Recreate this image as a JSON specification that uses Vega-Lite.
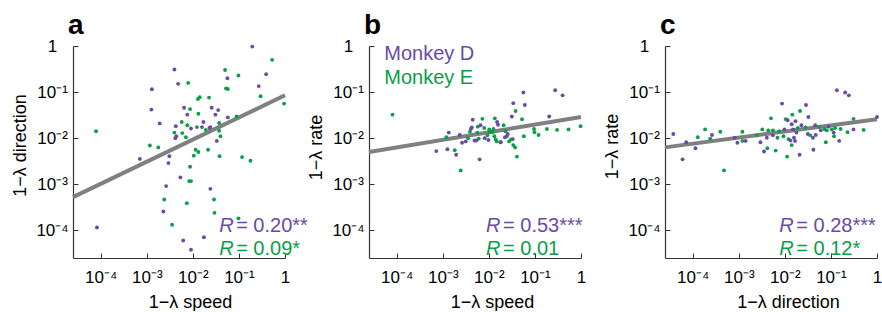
{
  "$schema": "https://vega.github.io/schema/vega-lite/v6.json",
  "padding": {"left": 11, "top": 12, "right": 0, "bottom": 0},
  "spacing": 84,
  "bounds": "flush",
  "datasets": {
    "points": [
      {"p":"a","m":"D","x":0.195,"y":0.97},{"p":"a","m":"E","x":0.525,"y":0.501},{"p":"a","m":"D","x":0.00398,"y":0.309},{"p":"a","m":"E","x":0.0501,"y":0.302},
      {"p":"a","m":"E","x":0.0977,"y":0.229},{"p":"a","m":"D","x":0.0562,"y":0.2},{"p":"a","m":"D","x":0.389,"y":0.245},{"p":"a","m":"E","x":0.00794,"y":0.158},
      {"p":"a","m":"D","x":0.00479,"y":0.151},{"p":"a","m":"D","x":0.269,"y":0.135},{"p":"a","m":"D","x":0.00129,"y":0.115},{"p":"a","m":"E","x":0.0525,"y":0.12},
      {"p":"a","m":"E","x":0.0575,"y":0.117},{"p":"a","m":"E","x":0.295,"y":0.0813},{"p":"a","m":"E","x":0.955,"y":0.0562},{"p":"a","m":"E","x":0.0141,"y":0.0776},
      {"p":"a","m":"E","x":0.0129,"y":0.0708},{"p":"a","m":"E","x":0.0224,"y":0.0759},{"p":"a","m":"D","x":0.00126,"y":0.0417},{"p":"a","m":"E","x":0.00871,"y":0.0427},
      {"p":"a","m":"D","x":0.00646,"y":0.0457},{"p":"a","m":"D","x":0.0257,"y":0.0457},{"p":"a","m":"D","x":0.0355,"y":0.0407},{"p":"a","m":"E","x":0.0132,"y":0.0339},
      {"p":"a","m":"D","x":0.00759,"y":0.0324},{"p":"a","m":"D","x":0.0309,"y":0.0324},{"p":"a","m":"D","x":0.0575,"y":0.0282},{"p":"a","m":"E","x":0.0891,"y":0.0295},
      {"p":"a","m":"D","x":0.00191,"y":0.0209},{"p":"a","m":"E","x":0.00575,"y":0.0224},{"p":"a","m":"E","x":0.00759,"y":0.0191},{"p":"a","m":"D","x":0.017,"y":0.0224},
      {"p":"a","m":"D","x":0.00912,"y":0.0162},{"p":"a","m":"E","x":0.0123,"y":0.0174},{"p":"a","m":"D","x":0.0158,"y":0.0174},{"p":"a","m":"D","x":0.0229,"y":0.0166},
      {"p":"a","m":"D","x":0.024,"y":0.0174},{"p":"a","m":"E","x":0.0191,"y":0.0151},{"p":"a","m":"E","x":0.0372,"y":0.0214},{"p":"a","m":"E","x":0.0372,"y":0.0145},
      {"p":"a","m":"E","x":0.0398,"y":0.011},{"p":"a","m":"D","x":0.0331,"y":0.00871},{"p":"a","m":"E","x":0.00398,"y":0.0132},{"p":"a","m":"D","x":0.00417,"y":0.01},
      {"p":"a","m":"D","x":0.00437,"y":0.011},{"p":"a","m":"E","x":0.00708,"y":0.0105},{"p":"a","m":"E","x":0.00589,"y":0.0129},{"p":"a","m":"E","x":0.00117,"y":0.00692},
      {"p":"a","m":"E","x":0.00178,"y":0.00631},{"p":"a","m":"E","x":0.0115,"y":0.00562},{"p":"a","m":"E","x":0.0132,"y":0.00501},{"p":"a","m":"E","x":0.0214,"y":0.00562},
      {"p":"a","m":"E","x":0.0105,"y":0.00417},{"p":"a","m":"E","x":0.038,"y":0.00407},{"p":"a","m":"E","x":0.117,"y":0.00389},{"p":"a","m":"E","x":0.178,"y":0.00324},
      {"p":"a","m":"D","x":0.00309,"y":0.00407},{"p":"a","m":"D","x":0.00295,"y":0.00288},{"p":"a","m":"D","x":0.000708,"y":0.00355},{"p":"a","m":"E","x":0.00871,"y":0.0024},
      {"p":"a","m":"D","x":0.00537,"y":0.00141},{"p":"a","m":"E","x":0.00832,"y":0.00117},{"p":"a","m":"E","x":0.00912,"y":0.00117},{"p":"a","m":"D","x":0.00263,"y":0.000912},
      {"p":"a","m":"D","x":0.024,"y":0.000794},{"p":"a","m":"E","x":0.0024,"y":0.000468},{"p":"a","m":"E","x":0.0288,"y":0.000468},{"p":"a","m":"E","x":0.00741,"y":0.000389},
      {"p":"a","m":"D","x":0.00229,"y":0.000257},{"p":"a","m":"E","x":0.0295,"y":0.00024},{"p":"a","m":"E","x":0.00355,"y":0.000132},{"p":"a","m":"E","x":0.0977,"y":0.000182},
      {"p":"a","m":"D","x":0.0000832,"y":0.000115},{"p":"a","m":"E","x":0.0000794,"y":0.0141},{"p":"a","m":"D","x":0.00617,"y":0.0000603},{"p":"a","m":"D","x":0.0174,"y":0.0000708},
      {"p":"a","m":"D","x":0.00912,"y":0.000038},{"p":"a","m":"D","x":0.00427,"y":0.0182},

      {"p":"b","m":"E","x":0.0000813,"y":0.0324},{"p":"b","m":"D","x":0.0562,"y":0.0977},{"p":"b","m":"D","x":0.275,"y":0.11},{"p":"b","m":"D","x":0.398,"y":0.0851},
      {"p":"b","m":"D","x":0.0339,"y":0.0575},{"p":"b","m":"D","x":0.0603,"y":0.0525},{"p":"b","m":"E","x":0.038,"y":0.0389},{"p":"b","m":"D","x":0.0316,"y":0.0295},
      {"p":"b","m":"E","x":0.0525,"y":0.0257},{"p":"b","m":"D","x":0.204,"y":0.0295},{"p":"b","m":"E","x":0.977,"y":0.0182},{"p":"b","m":"E","x":0.537,"y":0.0155},
      {"p":"b","m":"E","x":0.302,"y":0.0151},{"p":"b","m":"E","x":0.182,"y":0.0158},{"p":"b","m":"E","x":0.0955,"y":0.0158},{"p":"b","m":"E","x":0.0977,"y":0.0135},
      {"p":"b","m":"E","x":0.12,"y":0.0117},{"p":"b","m":"E","x":0.0575,"y":0.011},{"p":"b","m":"E","x":0.0135,"y":0.0269},{"p":"b","m":"D","x":0.0151,"y":0.0224},
      {"p":"b","m":"D","x":0.0158,"y":0.0195},{"p":"b","m":"E","x":0.00724,"y":0.0263},{"p":"b","m":"D","x":0.00447,"y":0.0251},{"p":"b","m":"D","x":0.00407,"y":0.0158},
      {"p":"b","m":"D","x":0.00427,"y":0.017},{"p":"b","m":"E","x":0.00575,"y":0.0178},{"p":"b","m":"D","x":0.00661,"y":0.0191},{"p":"b","m":"E","x":0.00794,"y":0.0166},
      {"p":"b","m":"E","x":0.0102,"y":0.0155},{"p":"b","m":"E","x":0.0126,"y":0.0158},{"p":"b","m":"E","x":0.0209,"y":0.0191},{"p":"b","m":"E","x":0.0229,"y":0.0141},
      {"p":"b","m":"D","x":0.0257,"y":0.0123},{"p":"b","m":"E","x":0.0105,"y":0.0135},{"p":"b","m":"E","x":0.012,"y":0.0135},{"p":"b","m":"E","x":0.00562,"y":0.0132},
      {"p":"b","m":"E","x":0.00389,"y":0.0138},{"p":"b","m":"E","x":0.00933,"y":0.0115},{"p":"b","m":"E","x":0.0132,"y":0.011},{"p":"b","m":"D","x":0.00813,"y":0.01},
      {"p":"b","m":"E","x":0.0141,"y":0.00933},{"p":"b","m":"D","x":0.00977,"y":0.00912},{"p":"b","m":"E","x":0.00603,"y":0.00977},{"p":"b","m":"D","x":0.0049,"y":0.00891},
      {"p":"b","m":"D","x":0.00537,"y":0.00891},{"p":"b","m":"D","x":0.00316,"y":0.00851},{"p":"b","m":"D","x":0.00263,"y":0.00794},{"p":"b","m":"E","x":0.00355,"y":0.01},
      {"p":"b","m":"D","x":0.00234,"y":0.0117},{"p":"b","m":"D","x":0.00135,"y":0.0132},{"p":"b","m":"E","x":0.0012,"y":0.0105},{"p":"b","m":"D","x":0.00126,"y":0.00575},
      {"p":"b","m":"D","x":0.000724,"y":0.00525},{"p":"b","m":"E","x":0.00182,"y":0.0055},{"p":"b","m":"D","x":0.00195,"y":0.00437},{"p":"b","m":"D","x":0.00631,"y":0.00347},
      {"p":"b","m":"E","x":0.00245,"y":0.002},{"p":"b","m":"E","x":0.0178,"y":0.00813},{"p":"b","m":"D","x":0.0224,"y":0.0105},{"p":"b","m":"D","x":0.0245,"y":0.011},
      {"p":"b","m":"D","x":0.0331,"y":0.00955},{"p":"b","m":"E","x":0.0302,"y":0.00933},{"p":"b","m":"E","x":0.0275,"y":0.00851},{"p":"b","m":"E","x":0.0339,"y":0.00708},
      {"p":"b","m":"E","x":0.0372,"y":0.00631},{"p":"b","m":"E","x":0.0407,"y":0.00398},{"p":"b","m":"D","x":0.0182,"y":0.00813},{"p":"b","m":"E","x":0.0148,"y":0.00851},

      {"p":"c","m":"D","x":0.000038,"y":0.0123},{"p":"c","m":"D","x":0.0000603,"y":0.00347},{"p":"c","m":"D","x":0.0000724,"y":0.00813},{"p":"c","m":"D","x":0.000115,"y":0.00603},
      {"p":"c","m":"E","x":0.000129,"y":0.0105},{"p":"c","m":"E","x":0.000186,"y":0.0155},{"p":"c","m":"E","x":0.00024,"y":0.00977},{"p":"c","m":"D","x":0.000263,"y":0.0117},
      {"p":"c","m":"E","x":0.000398,"y":0.0138},{"p":"c","m":"E","x":0.000479,"y":0.002},{"p":"c","m":"D","x":0.000813,"y":0.0102},{"p":"c","m":"D","x":0.000933,"y":0.00794},
      {"p":"c","m":"E","x":0.0012,"y":0.0138},{"p":"c","m":"E","x":0.0012,"y":0.00871},{"p":"c","m":"D","x":0.00141,"y":0.00871},{"p":"c","m":"E","x":0.00245,"y":0.0115},
      {"p":"c","m":"D","x":0.00295,"y":0.00813},{"p":"c","m":"E","x":0.00324,"y":0.0155},{"p":"c","m":"D","x":0.00355,"y":0.00513},{"p":"c","m":"D","x":0.00407,"y":0.0102},
      {"p":"c","m":"E","x":0.00417,"y":0.00603},{"p":"c","m":"E","x":0.00437,"y":0.0148},{"p":"c","m":"E","x":0.00501,"y":0.0269},{"p":"c","m":"E","x":0.0055,"y":0.0148},
      {"p":"c","m":"D","x":0.0055,"y":0.0115},{"p":"c","m":"E","x":0.00631,"y":0.00537},{"p":"c","m":"E","x":0.00692,"y":0.0102},{"p":"c","m":"E","x":0.00759,"y":0.0141},
      {"p":"c","m":"D","x":0.00871,"y":0.0562},{"p":"c","m":"E","x":0.00933,"y":0.011},{"p":"c","m":"D","x":0.00977,"y":0.0155},{"p":"c","m":"E","x":0.0105,"y":0.0257},
      {"p":"c","m":"D","x":0.0115,"y":0.0245},{"p":"c","m":"E","x":0.0112,"y":0.00398},{"p":"c","m":"E","x":0.012,"y":0.00955},{"p":"c","m":"D","x":0.0132,"y":0.00891},
      {"p":"c","m":"E","x":0.0141,"y":0.00708},{"p":"c","m":"E","x":0.0145,"y":0.0324},{"p":"c","m":"D","x":0.0141,"y":0.02},{"p":"c","m":"D","x":0.0151,"y":0.0155},
      {"p":"c","m":"D","x":0.0158,"y":0.0102},{"p":"c","m":"D","x":0.0166,"y":0.00871},{"p":"c","m":"D","x":0.017,"y":0.0234},{"p":"c","m":"D","x":0.0178,"y":0.0132},
      {"p":"c","m":"E","x":0.0191,"y":0.0166},{"p":"c","m":"D","x":0.0209,"y":0.00437},{"p":"c","m":"E","x":0.0214,"y":0.0389},{"p":"c","m":"D","x":0.0229,"y":0.0191},
      {"p":"c","m":"D","x":0.0288,"y":0.0525},{"p":"c","m":"E","x":0.0282,"y":0.017},{"p":"c","m":"D","x":0.0324,"y":0.0288},{"p":"c","m":"D","x":0.0316,"y":0.0123},
      {"p":"c","m":"E","x":0.0355,"y":0.0115},{"p":"c","m":"D","x":0.0407,"y":0.0102},{"p":"c","m":"D","x":0.0417,"y":0.00562},{"p":"c","m":"D","x":0.0457,"y":0.0191},
      {"p":"c","m":"D","x":0.0468,"y":0.0117},{"p":"c","m":"E","x":0.055,"y":0.0178},{"p":"c","m":"D","x":0.0603,"y":0.0148},{"p":"c","m":"E","x":0.0724,"y":0.0158},
      {"p":"c","m":"E","x":0.0813,"y":0.0148},{"p":"c","m":"E","x":0.0776,"y":0.00813},{"p":"c","m":"D","x":0.0891,"y":0.0178},{"p":"c","m":"E","x":0.105,"y":0.0155},
      {"p":"c","m":"D","x":0.115,"y":0.0132},{"p":"c","m":"E","x":0.117,"y":0.011},{"p":"c","m":"E","x":0.123,"y":0.0166},{"p":"c","m":"D","x":0.135,"y":0.11},
      {"p":"c","m":"D","x":0.151,"y":0.00871},{"p":"c","m":"E","x":0.162,"y":0.0158},{"p":"c","m":"D","x":0.204,"y":0.0977},{"p":"c","m":"D","x":0.245,"y":0.0851},
      {"p":"c","m":"E","x":0.229,"y":0.0135},{"p":"c","m":"E","x":0.309,"y":0.0263},{"p":"c","m":"D","x":0.309,"y":0.0155},{"p":"c","m":"E","x":0.513,"y":0.0151},
      {"p":"c","m":"D","x":1.0,"y":0.0288}
    ],
    "fits": [
      {"p":"a","x":0.0000251,"y":0.000525},{"p":"a","x":1,"y":0.0851},
      {"p":"b","x":0.0000251,"y":0.00501},{"p":"b","x":1,"y":0.0288},
      {"p":"c","x":0.0000251,"y":0.00631},{"p":"c","x":1,"y":0.0257}
    ],
    "notes": [
      {"p":"a","m":"D","x":0.0372,"y":0.0000912,"r":"R","t":"= 0.20**"},
      {"p":"a","m":"E","x":0.0372,"y":0.0000288,"r":"R","t":"= 0.09*"},
      {"p":"b","m":"D","x":0.00871,"y":0.0000912,"r":"R","t":"= 0.53***"},
      {"p":"b","m":"E","x":0.00871,"y":0.0000288,"r":"R","t":"= 0.01"},
      {"p":"c","m":"D","x":0.00759,"y":0.0000912,"r":"R","t":"= 0.28***"},
      {"p":"c","m":"E","x":0.00759,"y":0.0000288,"r":"R","t":"= 0.12*"}
    ],
    "legend": [
      {"p":"b","m":"D","x":0.0000537,"y":0.5,"t":"Monkey D"},
      {"p":"b","m":"E","x":0.0000537,"y":0.148,"t":"Monkey E"}
    ]
  },
  "hconcat": [
    {
      "width": 212, "height": 212,
      "title": {"text": "a"},
      "encoding": {
        "x": {"field": "x", "type": "quantitative", "scale": {"type": "log", "domain": [0.0000251, 1], "nice": false},
              "axis": {"title": "1−λ speed", "titleX": 117, "values": [0.0001, 0.001, 0.01, 0.1, 1], "labelExpr": "datum.value >= 0.5 ? '1' : datum.value >= 0.05 ? '10⁻¹' : datum.value >= 0.005 ? '10⁻²' : datum.value >= 0.0005 ? '10⁻³' : '10⁻⁴'"}},
        "y": {"field": "y", "type": "quantitative", "scale": {"type": "log", "domain": [0.0000251, 1], "nice": false},
              "axis": {"title": "1−λ direction", "titleY": 99, "values": [0.0001, 0.001, 0.01, 0.1, 1], "labelExpr": "datum.value >= 0.5 ? '1' : datum.value >= 0.05 ? '10⁻¹' : datum.value >= 0.005 ? '10⁻²' : datum.value >= 0.0005 ? '10⁻³' : '10⁻⁴'"}}
      },
      "layer": [
        {"data": {"name": "fits"}, "transform": [{"filter": "datum.p == 'a'"}], "mark": {"type": "line", "color": "#808080", "strokeWidth": 4}},
        {"data": {"name": "points"}, "transform": [{"filter": "datum.p == 'a'"}], "mark": {"type": "circle", "size": 15, "opacity": 1},
         "encoding": {"color": {"field": "m", "type": "nominal", "scale": {"domain": ["D", "E"], "range": ["#6a4aa5", "#0a9e48"]}, "legend": null}}},
        {"data": {"name": "notes"}, "transform": [{"filter": "datum.p == 'a'"}], "mark": {"type": "text", "align": "left", "baseline": "alphabetic", "fontSize": 20, "fontStyle": "italic"},
         "encoding": {"text": {"field": "r"}, "color": {"field": "m", "type": "nominal", "scale": {"domain": ["D", "E"], "range": ["#6a4aa5", "#0a9e48"]}, "legend": null}}},
        {"data": {"name": "notes"}, "transform": [{"filter": "datum.p == 'a'"}], "mark": {"type": "text", "align": "left", "baseline": "alphabetic", "fontSize": 20, "dx": 17},
         "encoding": {"text": {"field": "t"}, "color": {"field": "m", "type": "nominal", "scale": {"domain": ["D", "E"], "range": ["#6a4aa5", "#0a9e48"]}, "legend": null}}}
      ]
    },
    {
      "width": 212, "height": 212,
      "title": {"text": "b"},
      "encoding": {
        "x": {"field": "x", "type": "quantitative", "scale": {"type": "log", "domain": [0.0000251, 1], "nice": false},
              "axis": {"title": "1−λ speed", "titleX": 123, "values": [0.0001, 0.001, 0.01, 0.1, 1], "labelExpr": "datum.value >= 0.5 ? '1' : datum.value >= 0.05 ? '10⁻¹' : datum.value >= 0.005 ? '10⁻²' : datum.value >= 0.0005 ? '10⁻³' : '10⁻⁴'"}},
        "y": {"field": "y", "type": "quantitative", "scale": {"type": "log", "domain": [0.0000251, 1], "nice": false},
              "axis": {"title": "1−λ rate", "titleY": 101, "values": [0.0001, 0.001, 0.01, 0.1, 1], "labelExpr": "datum.value >= 0.5 ? '1' : datum.value >= 0.05 ? '10⁻¹' : datum.value >= 0.005 ? '10⁻²' : datum.value >= 0.0005 ? '10⁻³' : '10⁻⁴'"}}
      },
      "layer": [
        {"data": {"name": "fits"}, "transform": [{"filter": "datum.p == 'b'"}], "mark": {"type": "line", "color": "#808080", "strokeWidth": 4}},
        {"data": {"name": "points"}, "transform": [{"filter": "datum.p == 'b'"}], "mark": {"type": "circle", "size": 15, "opacity": 1},
         "encoding": {"color": {"field": "m", "type": "nominal", "scale": {"domain": ["D", "E"], "range": ["#6a4aa5", "#0a9e48"]}, "legend": null}}},
        {"data": {"name": "legend"}, "mark": {"type": "text", "align": "left", "baseline": "alphabetic", "fontSize": 20},
         "encoding": {"text": {"field": "t"}, "color": {"field": "m", "type": "nominal", "scale": {"domain": ["D", "E"], "range": ["#6a4aa5", "#0a9e48"]}, "legend": null}}},
        {"data": {"name": "notes"}, "transform": [{"filter": "datum.p == 'b'"}], "mark": {"type": "text", "align": "left", "baseline": "alphabetic", "fontSize": 20, "fontStyle": "italic"},
         "encoding": {"text": {"field": "r"}, "color": {"field": "m", "type": "nominal", "scale": {"domain": ["D", "E"], "range": ["#6a4aa5", "#0a9e48"]}, "legend": null}}},
        {"data": {"name": "notes"}, "transform": [{"filter": "datum.p == 'b'"}], "mark": {"type": "text", "align": "left", "baseline": "alphabetic", "fontSize": 20, "dx": 17},
         "encoding": {"text": {"field": "t"}, "color": {"field": "m", "type": "nominal", "scale": {"domain": ["D", "E"], "range": ["#6a4aa5", "#0a9e48"]}, "legend": null}}}
      ]
    },
    {
      "width": 212, "height": 212,
      "title": {"text": "c"},
      "encoding": {
        "x": {"field": "x", "type": "quantitative", "scale": {"type": "log", "domain": [0.0000251, 1], "nice": false},
              "axis": {"title": "1−λ direction", "titleX": 123, "values": [0.0001, 0.001, 0.01, 0.1, 1], "labelExpr": "datum.value >= 0.5 ? '1' : datum.value >= 0.05 ? '10⁻¹' : datum.value >= 0.005 ? '10⁻²' : datum.value >= 0.0005 ? '10⁻³' : '10⁻⁴'"}},
        "y": {"field": "y", "type": "quantitative", "scale": {"type": "log", "domain": [0.0000251, 1], "nice": false},
              "axis": {"title": "1−λ rate", "titleY": 100, "values": [0.0001, 0.001, 0.01, 0.1, 1], "labelExpr": "datum.value >= 0.5 ? '1' : datum.value >= 0.05 ? '10⁻¹' : datum.value >= 0.005 ? '10⁻²' : datum.value >= 0.0005 ? '10⁻³' : '10⁻⁴'"}}
      },
      "layer": [
        {"data": {"name": "fits"}, "transform": [{"filter": "datum.p == 'c'"}], "mark": {"type": "line", "color": "#808080", "strokeWidth": 4}},
        {"data": {"name": "points"}, "transform": [{"filter": "datum.p == 'c'"}], "mark": {"type": "circle", "size": 15, "opacity": 1},
         "encoding": {"color": {"field": "m", "type": "nominal", "scale": {"domain": ["D", "E"], "range": ["#6a4aa5", "#0a9e48"]}, "legend": null}}},
        {"data": {"name": "notes"}, "transform": [{"filter": "datum.p == 'c'"}], "mark": {"type": "text", "align": "left", "baseline": "alphabetic", "fontSize": 20, "fontStyle": "italic"},
         "encoding": {"text": {"field": "r"}, "color": {"field": "m", "type": "nominal", "scale": {"domain": ["D", "E"], "range": ["#6a4aa5", "#0a9e48"]}, "legend": null}}},
        {"data": {"name": "notes"}, "transform": [{"filter": "datum.p == 'c'"}], "mark": {"type": "text", "align": "left", "baseline": "alphabetic", "fontSize": 20, "dx": 17},
         "encoding": {"text": {"field": "t"}, "color": {"field": "m", "type": "nominal", "scale": {"domain": ["D", "E"], "range": ["#6a4aa5", "#0a9e48"]}, "legend": null}}}
      ]
    }
  ],
  "config": {
    "font": "Liberation Sans",
    "view": {"stroke": null},
    "title": {"anchor": "start", "frame": "group", "fontSize": 28, "fontWeight": "bold", "color": "#000", "offset": -3, "dx": -5},
    "axis": {"grid": false, "labelFontSize": 17, "labelColor": "#000", "titleFontSize": 18, "titleFontWeight": "normal", "titleColor": "#000",
             "domainColor": "#333", "domainWidth": 1.2, "tickColor": "#333", "tickSize": -5, "labelFlush": false, "labelOverlap": false, "labelBound": false},
    "axisX": {"labelPadding": 16, "titlePadding": 8, "labelAngle": 0},
    "axisY": {"labelPadding": 26, "labelAlign": "center", "titlePadding": 6}
  }
}
